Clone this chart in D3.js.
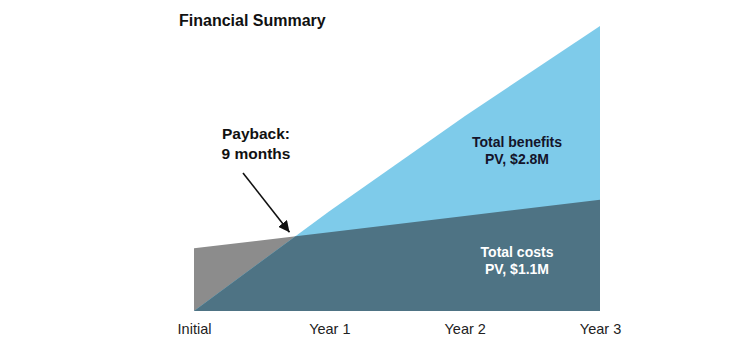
<!DOCTYPE html>
<html><head><meta charset="utf-8">
<script src="https://cdn.jsdelivr.net/npm/d3@7"></script>
<style>body{margin:0;background:#fff}svg{display:block}text{font-family:"Liberation Sans",Arial,sans-serif}</style>
</head><body>
<svg id="c" width="750" height="361"></svg>
<script>
const categories = ["Initial", "Year 1", "Year 2", "Year 3"];
const costs = [660, 830, 1000, 1170];      // cumulative costs ($K)
const benefits = [0, 1050, 2050, 3000];    // cumulative benefits ($K)
const title = "Financial Summary";
const paybackLabel = ["Payback:", "9 months"];
const benefitsLabel = ["Total benefits", "PV, $2.8M"];
const costsLabel = ["Total costs", "PV, $1.1M"];

const svg = d3.select("#c");
const x = d3.scalePoint().domain(categories).range([194, 600]);
const y = d3.scaleLinear().domain([0, 3000]).range([311, 26]);
const xi = d3.scaleLinear().domain([0, categories.length - 1]).range([194, 600]);

// find crossing point (payback) in index space
let cross = null;
for (let i = 0; i < categories.length - 1; i++) {
  const d0 = benefits[i] - costs[i], d1 = benefits[i+1] - costs[i+1];
  if (d0 < 0 && d1 >= 0) { const t = d0 / (d0 - d1); cross = {i: i + t, v: costs[i] + t * (costs[i+1] - costs[i])}; break; }
}
const pts = categories.map((c, i) => ({i, c: costs[i], b: benefits[i]}));
const minPts = [];
pts.forEach((p, k) => {
  minPts.push({i: p.i, v: Math.min(p.c, p.b)});
  if (cross && k < pts.length - 1 && cross.i > p.i && cross.i < pts[k+1].i) minPts.push({i: cross.i, v: cross.v});
});

const area = (acc) => d3.area().x(d => xi(d.i)).y0(y(0)).y1(acc);
svg.append("path").datum(pts).attr("d", area(d => y(d.c))).attr("fill", "#8c8c8c");
svg.append("path").datum(pts).attr("d", area(d => y(d.b))).attr("fill", "#7ecbea");
svg.append("path").datum(minPts).attr("d", area(d => y(d.v))).attr("fill", "#4e7384");

// axis labels
const ax = svg.append("g").attr("transform", "translate(0,311)")
  .call(d3.axisBottom(x).tickSize(0).tickPadding(13));
ax.select(".domain").remove();
ax.selectAll("text").attr("font-size", 14.5).attr("fill", "#222").style("font-family", '"Liberation Sans",Arial,sans-serif');

// title
svg.append("text").attr("x", 179).attr("y", 26).attr("font-size", 16).attr("font-weight", "bold").attr("fill", "#111").text(title);

// payback
const pb = svg.append("text").attr("font-size", 15.5).attr("font-weight", "bold").attr("fill", "#111").attr("text-anchor", "middle");
paybackLabel.forEach((t, k) => pb.append("tspan").attr("x", 256).attr("y", 139 + k * 20).text(t));
svg.append("defs").append("marker").attr("id", "ah").attr("viewBox", "0 0 10 10").attr("refX", 10).attr("refY", 5)
  .attr("markerWidth", 7).attr("markerHeight", 7).attr("orient", "auto")
  .append("path").attr("d", "M0,0L10,5L0,10z").attr("fill", "#111");
if (cross) {
  const cx = xi(cross.i), cy = y(cross.v);
  svg.append("line").attr("x1", 243).attr("y1", 173).attr("x2", cx - 6).attr("y2", cy - 4)
    .attr("stroke", "#111").attr("stroke-width", 1.6).attr("marker-end", "url(#ah)");
}

const bl = svg.append("text").attr("font-size", 14).attr("font-weight", "bold").attr("fill", "#14142a").attr("text-anchor", "middle");
benefitsLabel.forEach((t, k) => bl.append("tspan").attr("x", 517).attr("y", 147 + k * 17).text(t));
const cl = svg.append("text").attr("font-size", 14).attr("font-weight", "bold").attr("fill", "#fff").attr("text-anchor", "middle");
costsLabel.forEach((t, k) => cl.append("tspan").attr("x", 517).attr("y", 257 + k * 17).text(t));
</script>
</body></html>
